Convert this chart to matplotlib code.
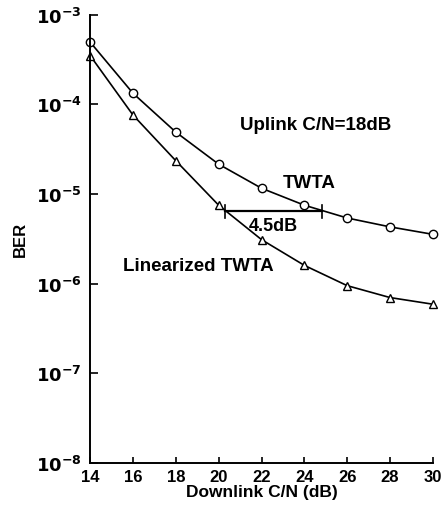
import matplotlib
matplotlib.use("Agg")
import matplotlib.pyplot as plt

plt.rcParams['font.family'] = ['Liberation Sans', 'DejaVu Sans']
plt.rcParams['font.weight'] = 'bold'

cn = [14, 16, 18, 20, 22, 24, 26, 28, 30]
ber_twta = [4.95e-4, 1.33e-4, 4.9e-5, 2.15e-5, 1.16e-5, 7.5e-6, 5.4e-6, 4.3e-6, 3.55e-6]
ber_lin = [3.5e-4, 7.6e-5, 2.35e-5, 7.5e-6, 3.1e-6, 1.6e-6, 9.5e-7, 7.0e-7, 5.9e-7]
xticks = [14, 16, 18, 20, 22, 24, 26, 28, 30]
yticks = [1e-8, 1e-7, 1e-6, 1e-5, 1e-4, 1e-3]
ytick_labels = [r'$\mathbf{10^{-8}}$', r'$\mathbf{10^{-7}}$', r'$\mathbf{10^{-6}}$',
                r'$\mathbf{10^{-5}}$', r'$\mathbf{10^{-4}}$', r'$\mathbf{10^{-3}}$']
gap_x = [20.3, 24.8]
gap_y = 6.4e-6

fig = plt.figure(figsize=(4.44, 5.06), dpi=100)
ax = fig.add_axes([0.203, 0.083, 0.772, 0.886])
ax.set_yscale('log')
ax.set_xlim(14, 30)
ax.set_ylim(1e-8, 1e-3)

ax.plot(cn, ber_twta, color='black', lw=1.2, marker='o', ms=6, mfc='white',
        mec='black', mew=1.0, clip_on=False)
ax.plot(cn, ber_lin, color='black', lw=1.2, marker='^', ms=6, mfc='white',
        mec='black', mew=1.0, clip_on=False)

ax.plot(gap_x, [gap_y, gap_y], color='black', lw=1.6)
for gx in gap_x:
    ax.plot([gx, gx], [gap_y * 0.85, gap_y * 1.18], color='black', lw=1.2)
ax.text(sum(gap_x) / 2, gap_y * 0.86, '4.5dB', ha='center', va='top', fontsize=13, fontweight='bold')

ax.text(21.0, 5.9e-5, 'Uplink C/N=18dB', ha='left', va='center', fontsize=13.5, fontweight='bold')
ax.text(23.0, 1.35e-5, 'TWTA', ha='left', va='center', fontsize=13.5, fontweight='bold')
ax.text(15.55, 1.6e-6, 'Linearized TWTA', ha='left', va='center', fontsize=13.5, fontweight='bold')

ax.set_xticks(xticks)
ax.set_xticklabels([str(t) for t in xticks], fontsize=12, fontweight='bold')
ax.set_yticks(yticks)
ax.set_yticklabels(ytick_labels, fontsize=13)
ax.minorticks_off()
ax.tick_params(axis='both', direction='in', width=1.2)
ax.tick_params(axis='x', length=4, pad=4)
ax.tick_params(axis='y', length=6, pad=6)

for s in ['top', 'right']:
    ax.spines[s].set_visible(False)
for s in ['left', 'bottom']:
    ax.spines[s].set_linewidth(1.4)

ax.set_xlabel('Downlink C/N (dB)', fontsize=12.5, fontweight='bold', labelpad=0)
ax.set_ylabel('BER', fontsize=12, fontweight='bold', labelpad=6)

fig.savefig('out.png', dpi=100)
